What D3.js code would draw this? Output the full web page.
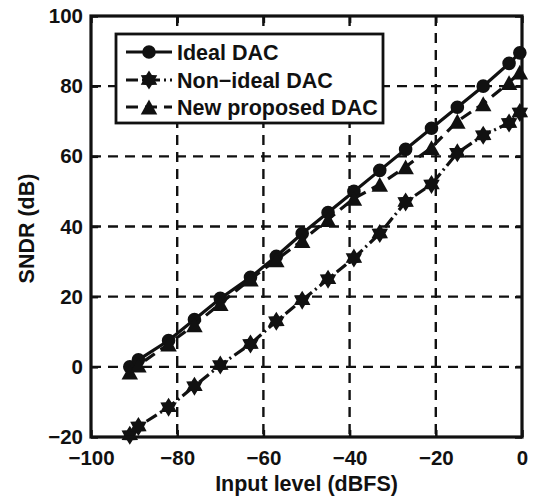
<!DOCTYPE html>
<html>
<head>
<meta charset="utf-8">
<script src="https://cdn.jsdelivr.net/npm/d3@7/dist/d3.min.js"></script>
<style>
  html, body { margin: 0; padding: 0; background: #fff; }
  svg { display: block; }
  text { font-family: "Liberation Sans", Arial, Helvetica, sans-serif; font-weight: bold; fill: #111; }
</style>
</head>
<body>
<svg id="chart" width="543" height="500"></svg>
<script>
// ---- data ----
const inputLevel = [-91, -89, -82, -76, -70, -63, -57, -51, -45, -39, -33, -27, -21, -15, -9, -3, -0.5];
const idealDAC    = [0, 2, 7.5, 13.5, 19.5, 25.5, 31.5, 38, 44, 50, 56, 62, 68, 74, 80, 86.5, 89.5];
const nonIdealDAC = [-19.5, -17, -11.5, -5.5, 0.5, 6.5, 13, 19, 25, 31, 38, 47, 52, 61, 66, 69.5, 72.5];
const proposedDAC = [-1.5, 0.5, 6.5, 12, 18, 25, 30.5, 36, 42, 48, 52, 57, 62.5, 70, 75, 81, 84];
const seriesNames = ["Ideal DAC", "Non\u2212ideal DAC", "New proposed DAC"];
const xTicks = [-100, -80, -60, -40, -20, 0];
const yTicks = [-20, 0, 20, 40, 60, 80, 100];
const xLabel = "Input level (dBFS)";
const yLabel = "SNDR (dB)";

(function () {
// ---- layout ----
const svg = d3.select("#chart");
const pL = 91, pR = 522, pT = 16, pB = 437;
const x = d3.scaleLinear().domain([-100, 0]).range([pL, pR]);
const y = d3.scaleLinear().domain([-20, 100]).range([pB, pT]);
const ink = "#111";
const fmt = d => (d < 0 ? "\u2212" + Math.abs(d) : String(d));

// grid
const g = svg.append("g");
g.selectAll("line.gx").data(xTicks.slice(1, -1)).join("line")
  .attr("x1", d => x(d)).attr("x2", d => x(d)).attr("y1", pT).attr("y2", pB)
  .attr("stroke", ink).attr("stroke-width", 2.4).attr("stroke-dasharray", "10,7");
g.selectAll("line.gy").data(yTicks.slice(1, -1)).join("line")
  .attr("y1", d => y(d)).attr("y2", d => y(d)).attr("x1", pL).attr("x2", pR)
  .attr("stroke", ink).attr("stroke-width", 2.4).attr("stroke-dasharray", "10,7");

// marker shapes
function hexagram(r) {
  const pts = [];
  for (let i = 0; i < 12; i++) {
    const a = -Math.PI / 2 + i * Math.PI / 6;
    const rr = i % 2 === 0 ? r : r * 0.6;
    pts.push([rr * Math.cos(a), rr * Math.sin(a)]);
  }
  return "M" + pts.map(p => p[0].toFixed(2) + "," + p[1].toFixed(2)).join("L") + "Z";
}
function triangle(s) {
  const h = s * 0.9;
  return `M0,${-h / 2}L${s / 2},${h / 2}L${-s / 2},${h / 2}Z`;
}
const circlePath = d3.symbol().type(d3.symbolCircle).size(Math.PI * 6.8 * 6.8)();

const series = [
  { name: seriesNames[0], values: idealDAC,    dash: null,       marker: circlePath },
  { name: seriesNames[1], values: nonIdealDAC, dash: "12,4,2,4", marker: hexagram(9.5) },
  { name: seriesNames[2], values: proposedDAC, dash: "12,7",     marker: triangle(16.5) }
];

const line = d3.line().x(d => x(d[0])).y(d => y(d[1]));

series.forEach(s => {
  const pts = inputLevel.map((v, i) => [v, s.values[i]]);
  svg.append("path").datum(pts).attr("d", line)
    .attr("fill", "none").attr("stroke", ink).attr("stroke-width", 3.2)
    .attr("stroke-dasharray", s.dash);
  svg.append("g").selectAll("path").data(pts).join("path")
    .attr("d", s.marker)
    .attr("transform", d => `translate(${x(d[0])},${y(d[1])})`)
    .attr("fill", ink);
});

// axes (frame with inward ticks on all sides)
const tickLen = 7;
const axB = svg.append("g").attr("transform", `translate(0,${pB})`)
  .call(d3.axisBottom(x).tickValues(xTicks).tickSizeInner(-tickLen).tickSizeOuter(0).tickPadding(13).tickFormat(fmt));
const axT = svg.append("g").attr("transform", `translate(0,${pT})`)
  .call(d3.axisTop(x).tickValues(xTicks).tickSizeInner(-tickLen).tickSizeOuter(0).tickFormat(""));
const axL = svg.append("g").attr("transform", `translate(${pL},0)`)
  .call(d3.axisLeft(y).tickValues(yTicks).tickSizeInner(-tickLen).tickSizeOuter(0).tickPadding(8).tickFormat(fmt));
const axR = svg.append("g").attr("transform", `translate(${pR},0)`)
  .call(d3.axisRight(y).tickValues(yTicks).tickSizeInner(-tickLen).tickSizeOuter(0).tickFormat(""));
[axB, axT, axL, axR].forEach(a => {
  a.select(".domain").remove();
  a.selectAll(".tick line").attr("stroke", ink).attr("stroke-width", 2.5);
  a.selectAll(".tick text").attr("font-size", 20.5).attr("font-family", "Liberation Sans, Arial, sans-serif")
    .attr("font-weight", "bold").attr("fill", ink);
});
svg.append("rect").attr("x", pL).attr("y", pT).attr("width", pR - pL).attr("height", pB - pT)
  .attr("fill", "none").attr("stroke", ink).attr("stroke-width", 3.2);

// axis labels
svg.append("text").attr("x", (pL + pR) / 2).attr("y", 491).attr("text-anchor", "middle")
  .attr("font-size", 21.5).text(xLabel);
svg.append("text").attr("transform", `translate(34,${(pT + pB) / 2 + 2}) rotate(-90)`)
  .attr("text-anchor", "middle").attr("font-size", 21.5).text(yLabel);

// legend
const lg = svg.append("g");
lg.append("rect").attr("x", 116).attr("y", 34).attr("width", 267).attr("height", 89)
  .attr("fill", "#fff").attr("stroke", ink).attr("stroke-width", 2.8);
const rowY = [52, 80, 107];
series.forEach((s, i) => {
  lg.append("line").attr("x1", 126).attr("x2", 172).attr("y1", rowY[i]).attr("y2", rowY[i])
    .attr("stroke", ink).attr("stroke-width", 3.2).attr("stroke-dasharray", s.dash);
  lg.append("path").attr("d", s.marker).attr("transform", `translate(149,${rowY[i]})`).attr("fill", ink);
  lg.append("text").attr("x", 177).attr("y", rowY[i] + 7.5).attr("font-size", 21.5).text(s.name);
});
})();
</script>
</body>
</html>
